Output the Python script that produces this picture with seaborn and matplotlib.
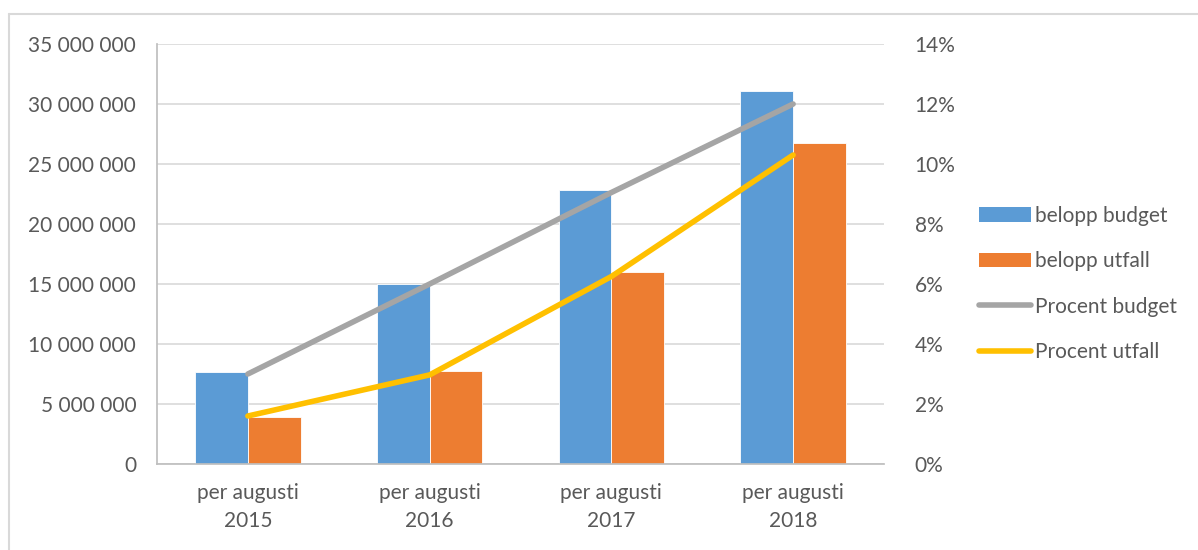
import matplotlib
matplotlib.use("Agg")
import matplotlib.pyplot as plt
from matplotlib.lines import Line2D
from matplotlib.patches import Patch
from matplotlib.ticker import FuncFormatter, MultipleLocator
import numpy as np
import pandas as pd
import seaborn as sns

categories = ["per augusti\n2015", "per augusti\n2016", "per augusti\n2017", "per augusti\n2018"]
belopp_budget = [7_700_000, 15_000_000, 22_800_000, 31_050_000]
belopp_utfall = [3_950_000, 7_780_000, 16_000_000, 26_750_000]
procent_budget = [3.0, 6.0, 9.05, 12.0]
procent_utfall = [1.6, 2.97, 6.25, 10.3]
series_bars = ["belopp budget", "belopp utfall"]
series_lines = ["Procent budget", "Procent utfall"]

BLUE = "#5b9bd5"
ORANGE = "#ed7d31"
GRAY = "#a5a5a5"
YELLOW = "#ffc000"
TXT = "#595959"
FS = 15

sns.set_theme(style="white")
plt.rcParams["font.family"] = ["Lato", "DejaVu Sans"]

df = pd.DataFrame({
    "cat": categories * 2,
    "serie": [series_bars[0]] * 4 + [series_bars[1]] * 4,
    "value": belopp_budget + belopp_utfall,
})

fig = plt.figure(figsize=(11.98, 5.5), dpi=100)
ax = fig.add_axes([157 / 1198, 86 / 550, (884 - 157) / 1198, (464 - 44) / 550])

sns.barplot(data=df, x="cat", y="value", hue="serie", order=categories,
            hue_order=series_bars, palette=[BLUE, ORANGE], width=0.58, gap=0,
            saturation=1, ax=ax, legend=False, errorbar=None,
            edgecolor="white", linewidth=0.6)

ax.set_xlim(-0.5, 3.5)
ax.set_ylim(0, 35_000_000)
ax.yaxis.set_major_locator(MultipleLocator(5_000_000))
ax.yaxis.set_major_formatter(FuncFormatter(lambda v, p: f"{int(v):,}".replace(",", " ")))
ax.grid(axis="y", color="#d9d9d9", linewidth=1.2)
ax.set_axisbelow(True)
ax.set_xlabel("")
ax.set_ylabel("")
for s in ["top", "right"]:
    ax.spines[s].set_visible(False)
ax.spines["left"].set_color("#bfbfbf")
ax.spines["bottom"].set_color("#bfbfbf")
ax.tick_params(axis="both", length=0, labelsize=FS, colors=TXT)
ax.tick_params(axis="y", pad=15)
ax.tick_params(axis="x", pad=14)
for lbl in ax.get_xticklabels():
    lbl.set_linespacing(1.5)

ax2 = ax.twinx()
xpos = np.arange(len(categories))
sns.lineplot(x=xpos, y=procent_budget, ax=ax2, color=GRAY, linewidth=4,
             solid_capstyle="round")
sns.lineplot(x=xpos, y=procent_utfall, ax=ax2, color=YELLOW, linewidth=4,
             solid_capstyle="round")
ax2.set_ylim(0, 14)
ax2.yaxis.set_major_locator(MultipleLocator(2))
ax2.yaxis.set_major_formatter(FuncFormatter(lambda v, p: f"{int(round(v))}%"))
ax2.tick_params(axis="y", length=0, labelsize=FS, colors=TXT, pad=22)
for s in ax2.spines.values():
    s.set_visible(False)
ax2.grid(False)
ax2.set_xlim(-0.5, 3.5)

handles = [
    Patch(facecolor=BLUE, edgecolor="none"),
    Patch(facecolor=ORANGE, edgecolor="none"),
    Line2D([0], [0], color=GRAY, linewidth=4, solid_capstyle="round"),
    Line2D([0], [0], color=YELLOW, linewidth=4, solid_capstyle="round"),
]
labels = series_bars + series_lines
leg = fig.legend(handles, labels, loc="center left",
                 bbox_to_anchor=(960 / 1198, 1 - 284 / 550), frameon=False,
                 fontsize=FS, labelcolor=TXT, handlelength=2.5, handleheight=0.7,
                 handletextpad=0.2, labelspacing=1.22)

# outer chart frame
fig.add_artist(Line2D([9 / 1198, 1.0], [1 - 14 / 550, 1 - 14 / 550], color="#d9d9d9", linewidth=1.5))
fig.add_artist(Line2D([9 / 1198, 9 / 1198], [0, 1 - 14 / 550], color="#d9d9d9", linewidth=1.5))

fig.savefig("out.png", dpi=100, facecolor="white")
